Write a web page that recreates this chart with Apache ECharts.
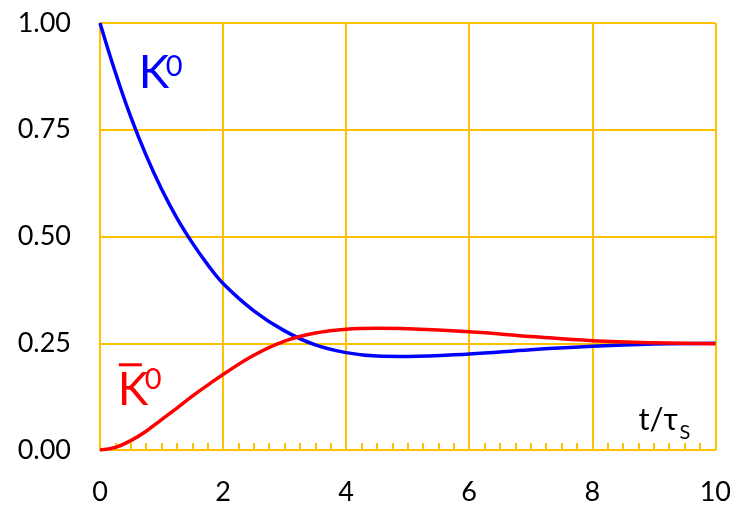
<!DOCTYPE html>
<html>
<head>
<meta charset="utf-8">
<script src="https://cdn.jsdelivr.net/npm/echarts@6/dist/echarts.min.js"></script>
<style>
  html, body { margin: 0; padding: 0; background: #ffffff; }
  #chart { width: 734px; height: 506px; }
</style>
</head>
<body>
<div id="chart"></div>
<script>
// Time in units of the K-short lifetime
const times = [0, 0.25, 0.5, 0.75, 1, 1.25, 1.5, 1.75, 2, 2.5, 3, 3.5, 4, 4.5, 5, 6, 7, 8, 9, 10];
// Probability of finding K0
const k0 = [1.00, 0.884, 0.780, 0.690, 0.611, 0.543, 0.485, 0.434, 0.390, 0.326, 0.279, 0.246, 0.228, 0.220, 0.219, 0.225, 0.235, 0.243, 0.248, 0.250];
// Probability of finding anti-K0
const k0bar = [0.00, 0.006, 0.022, 0.044, 0.071, 0.098, 0.126, 0.152, 0.177, 0.222, 0.255, 0.274, 0.283, 0.285, 0.284, 0.277, 0.266, 0.256, 0.251, 0.249];
// Axis tick labels
const xTickLabels = ['0', '2', '4', '6', '8', '10'];
const yTickLabels = ['0.00', '0.25', '0.50', '0.75', '1.00'];

const GOLD = '#FFC000';
const FONT = 'Lato, "Open Sans", sans-serif';

const chart = echarts.init(document.getElementById('chart'));

const option = {
  animation: false,
  backgroundColor: '#ffffff',
  grid: { left: 100, right: 18, top: 23, bottom: 53, containLabel: false },
  xAxis: {
    type: 'value', min: 0, max: 10, interval: 2,
    axisLine: { show: true, lineStyle: { color: GOLD, width: 2 } },
    axisTick: { show: false, inside: true },
    minorTick: { show: true, splitNumber: 8, length: 7, lineStyle: { color: GOLD, width: 2 } },
    splitLine: { show: true, lineStyle: { color: GOLD, width: 2 } },
    axisLabel: {
      color: '#000', fontFamily: FONT, fontSize: 27, margin: 29,
      formatter: v => xTickLabels[Math.round(v / 2)]
    }
  },
  yAxis: {
    type: 'value', min: 0, max: 1, interval: 0.25,
    axisLine: { show: true, lineStyle: { color: GOLD, width: 2 } },
    axisTick: { show: false },
    splitLine: { show: true, lineStyle: { color: GOLD, width: 2 } },
    axisLabel: {
      color: '#000', fontFamily: FONT, fontSize: 27, margin: 29,
      formatter: v => yTickLabels[Math.round(v * 4)]
    }
  },
  series: [
    {
      name: 'K0', type: 'line', smooth: 0.4, showSymbol: false,
      lineStyle: { color: '#0000FF', width: 3.5 },
      data: times.map((t, i) => [t, k0[i]])
    },
    {
      name: 'K0bar', type: 'line', smooth: 0.4, showSymbol: false,
      lineStyle: { color: '#FF0000', width: 3.5 },
      data: times.map((t, i) => [t, k0bar[i]])
    }
  ]
};
chart.setOption(option);

// Curve names and the axis title, anchored in data coordinates
function at(t, v) { return chart.convertToPixel({ gridIndex: 0 }, [t, v]); }
const pK = at(0.63, 0.915);
const pKb = at(0.29, 0.175);
const pT = at(8.75, 0.093);

function txt(x, y, s, size, color) {
  return {
    type: 'text', x: x, y: y, silent: true,
    style: { text: s, fill: color, font: size + 'px ' + FONT, verticalAlign: 'top' }
  };
}

chart.setOption({
  graphic: [
    txt(pK[0], pK[1] - 9, 'K', 46, '#0000FF'),
    txt(pK[0] + 27, pK[1] - 7, '0', 29, '#0000FF'),
    txt(pKb[0], pKb[1] - 8, 'K', 46, '#FF0000'),
    txt(pKb[0] + 27, pKb[1] - 10, '0', 29, '#FF0000'),
    {
      type: 'rect', silent: true,
      shape: { x: pKb[0] + 1, y: pKb[1] - 12, width: 23, height: 3 },
      style: { fill: '#FF0000' }
    },
    txt(pT[0], pT[1] - 6, 't/τ', 31, '#000'),
    txt(pT[0] + 41, pT[1] + 12, 'S', 20, '#000')
  ]
});
</script>
</body>
</html>
